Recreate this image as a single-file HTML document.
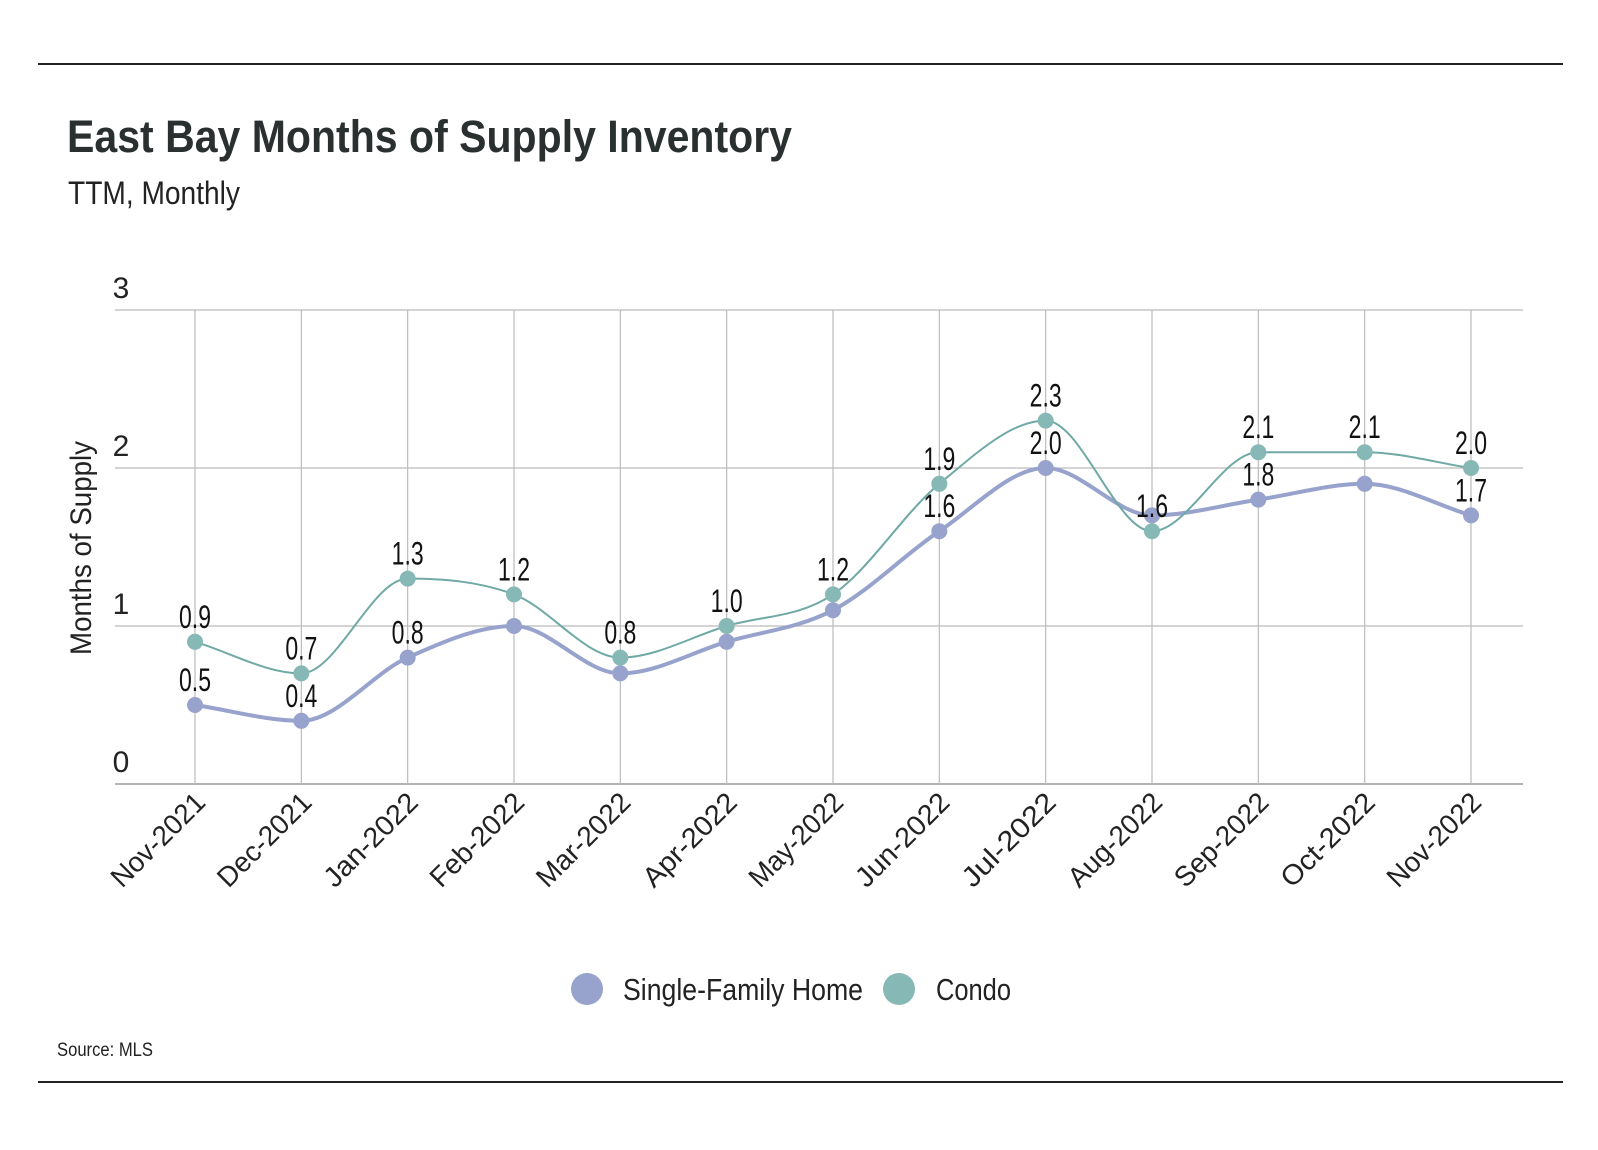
<!DOCTYPE html>
<html><head><meta charset="utf-8"><style>
html,body{margin:0;padding:0;background:#fff;width:1598px;height:1150px;overflow:hidden}
svg{display:block;font-family:"Liberation Sans",sans-serif}
</style></head><body>
<svg id="chart" width="1598" height="1150" viewBox="0 0 1598 1150">
<line x1="38" y1="64" x2="1563" y2="64" stroke="#222" stroke-width="2"/>
<line x1="38" y1="1082" x2="1563" y2="1082" stroke="#222" stroke-width="2"/>
<text x="67" y="152" font-size="45" font-weight="bold" fill="#2a2f30" textLength="725" lengthAdjust="spacingAndGlyphs">East Bay Months of Supply Inventory</text>
<text x="68" y="204" font-size="32" fill="#222" textLength="172" lengthAdjust="spacingAndGlyphs">TTM, Monthly</text>
<text transform="translate(91,548) rotate(-90)" text-anchor="middle" font-size="30" fill="#222" textLength="214" lengthAdjust="spacingAndGlyphs">Months of Supply</text>
<g id="grid"></g><g id="lines"></g><g id="labels"></g>
<g>
<circle cx="587" cy="989" r="16" fill="#97a3cc"/>
<text x="623" y="1000" font-size="31" fill="#222" textLength="240" lengthAdjust="spacingAndGlyphs">Single-Family Home</text>
<circle cx="899" cy="989" r="16" fill="#86b8b5"/>
<text x="936" y="1000" font-size="31" fill="#222" textLength="75" lengthAdjust="spacingAndGlyphs">Condo</text>
</g>
<text x="57" y="1056" font-size="19" fill="#222" textLength="96" lengthAdjust="spacingAndGlyphs">Source:  MLS</text>
</svg>
<script>
const categories=["Nov-2021","Dec-2021","Jan-2022","Feb-2022","Mar-2022","Apr-2022","May-2022","Jun-2022","Jul-2022","Aug-2022","Sep-2022","Oct-2022","Nov-2022"];
const sfhValues=[0.5,0.4,0.8,1.0,0.7,0.9,1.1,1.6,2.0,1.7,1.8,1.9,1.7];
const condoValues=[0.9,0.7,1.3,1.2,0.8,1.0,1.2,1.9,2.3,1.6,2.1,2.1,2.0];
const sfhLabels=["0.5","0.4","0.8",null,null,null,null,"1.6","2.0",null,"1.8",null,"1.7"];
const condoLabels=["0.9","0.7","1.3","1.2","0.8","1.0","1.2","1.9","2.3","1.6","2.1","2.1","2.0"];
const yTicks=[0,1,2,3];
const NS="http://www.w3.org/2000/svg";
const X0=195,X1=1471,Y0=784,Y3=310,GL=115,GR=1523;
const xs=i=>X0+(X1-X0)*i/(categories.length-1);
const ys=v=>Y0-(Y0-Y3)*v/3;
function mk(tag,attrs,parent){const e=document.createElementNS(NS,tag);for(const k in attrs)e.setAttribute(k,attrs[k]);parent.appendChild(e);return e;}
const grid=document.getElementById('grid'),lines=document.getElementById('lines'),labels=document.getElementById('labels');
yTicks.forEach(t=>{
  const l=mk('line',{x1:GL,x2:GR,y1:ys(t),y2:ys(t),stroke:t===0?'#888':'#bbb','stroke-width':1.2},grid);
  
  
  const tx=mk('text',{x:121,y:ys(t)-12,'text-anchor':'middle','font-size':30,fill:'#222'},grid);
  
  
  tx.textContent=t;
});
categories.forEach((c,i)=>{
  const l=mk('line',{x1:xs(i),x2:xs(i),y1:Y3,y2:Y0,stroke:'#bbb','stroke-width':1.2},grid);
  
  
  const tx=mk('text',{transform:`translate(${xs(i)+12},${Y0+20}) rotate(-45)`,'text-anchor':'end','font-size':28,fill:'#222',textLength:120,lengthAdjust:'spacingAndGlyphs'},grid);
  
  
  tx.textContent=c;
});
function path(vals){
  const p=vals.map((v,i)=>[xs(i),ys(v)]);const n=p.length;
  const d=[],m=new Array(n);
  for(let i=0;i<n-1;i++)d.push((p[i+1][1]-p[i][1])/(p[i+1][0]-p[i][0]));
  m[0]=d[0];m[n-1]=d[n-2];
  for(let i=1;i<n-1;i++){m[i]=(d[i-1]*d[i]<=0)?0:(d[i-1]+d[i])/2;}
  for(let i=0;i<n-1;i++){if(d[i]===0){m[i]=0;m[i+1]=0;continue;}
    const a=m[i]/d[i],b=m[i+1]/d[i],s=a*a+b*b;if(s>9){const t=3/Math.sqrt(s);m[i]=t*a*d[i];m[i+1]=t*b*d[i];}}
  let s=`M${p[0][0]},${p[0][1]}`;
  for(let i=0;i<n-1;i++){const h=(p[i+1][0]-p[i][0])/3;
    s+=` C${p[i][0]+h},${p[i][1]+m[i]*h} ${p[i+1][0]-h},${p[i+1][1]-m[i+1]*h} ${p[i+1][0]},${p[i+1][1]}`;}
  return s;
}
function series(vals,labs,lineColor,dotColor,w,name){
  const pa=mk('path',{d:path(vals),fill:'none',stroke:lineColor,'stroke-width':w},lines);
  
  
  vals.forEach((v,i)=>{
    const c=mk('circle',{cx:xs(i),cy:ys(v),r:8,fill:dotColor},lines);
    
    
    if(labs[i]){const t=mk('text',{x:xs(i),y:ys(v)-14,'text-anchor':'middle','font-size':32,fill:'#111',textLength:32,lengthAdjust:'spacingAndGlyphs'},labels);
      
      
      t.textContent=labs[i];}
  });
}
series(sfhValues,sfhLabels,'#97a3cc','#97a3cc',4,'sfh');
series(condoValues,condoLabels,'#6fa9a5','#86b8b5',2,'condo');
</script>
</body></html>
